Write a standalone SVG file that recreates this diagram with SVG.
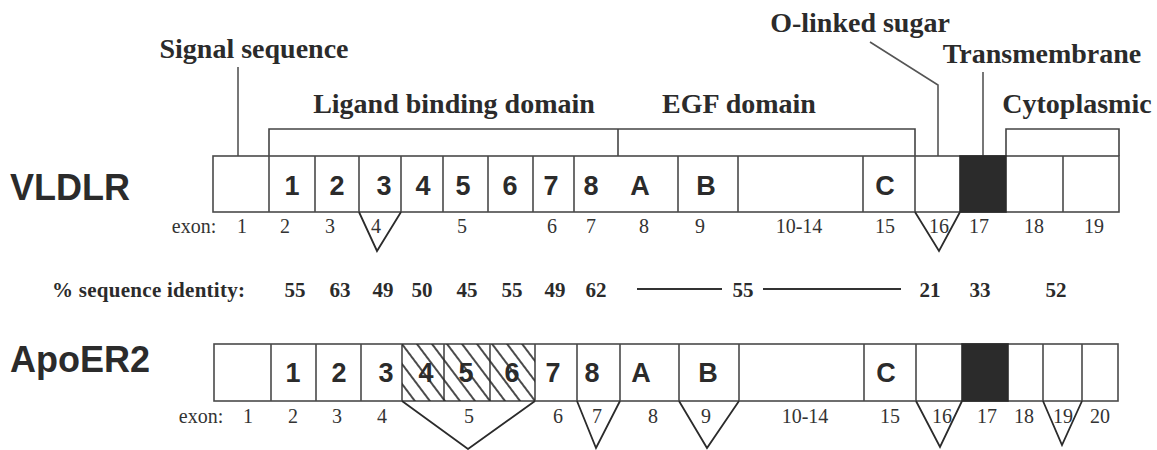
<svg xmlns="http://www.w3.org/2000/svg" width="1157" height="450" viewBox="0 0 1157 450">
  <style>
    .box { fill: #fff; stroke: #4a4a4a; stroke-width: 1.6; }
    .div { stroke: #4a4a4a; stroke-width: 1.6; fill: none; }
    .tm { fill: #2b2b2b; stroke: #2b2b2b; stroke-width: 1.6; }
    .tri { fill: none; stroke: #2b2b2b; stroke-width: 1.8; stroke-linejoin: miter; }
    .lead { fill: none; stroke: #555; stroke-width: 1.6; }
    .brk { fill: none; stroke: #444; stroke-width: 1.6; }
    .name { font-family: "Liberation Sans", Arial, sans-serif; font-weight: bold; font-size: 36px; fill: #2b2b2b; }
    .dom { font-family: "Liberation Sans", Arial, sans-serif; font-weight: bold; font-size: 27px; fill: #2b2b2b; text-anchor: middle; }
    .head { font-family: "Liberation Serif", "Times New Roman", serif; font-weight: bold; font-size: 28px; fill: #2b2b2b; text-anchor: middle; }
    .exon { font-family: "Liberation Serif", "Times New Roman", serif; font-size: 20px; fill: #333; text-anchor: middle; }
    .pct { font-family: "Liberation Serif", "Times New Roman", serif; font-weight: bold; font-size: 21px; fill: #2b2b2b; text-anchor: middle; }
    .pct-title { font-family: "Liberation Serif", "Times New Roman", serif; font-weight: bold; font-size: 21px; fill: #2b2b2b; text-anchor: start; }
  </style>
  <defs>
    <pattern id="hatch" patternUnits="userSpaceOnUse" width="12" height="12" patternTransform="rotate(-37)">
      <line x1="6" y1="-2" x2="6" y2="14" stroke="#2b2b2b" stroke-width="1.7"/>
    </pattern>
  </defs>

  <rect width="1157" height="450" fill="#fff"/>

  <!-- domain headings -->
  <g id="headings">
    <text class="head" x="254" y="58">Signal sequence</text>
    <text class="head" x="454" y="113">Ligand binding domain</text>
    <text class="head" x="739" y="113">EGF domain</text>
    <text class="head" x="860" y="32">O-linked sugar</text>
    <text class="head" x="1042" y="63">Transmembrane</text>
    <text class="head" x="1077" y="113">Cytoplasmic</text>
  </g>

  <!-- leader lines and domain brackets -->
  <g id="connectors">
    <line class="lead" x1="238" y1="67" x2="238" y2="156"/>
    <polyline class="lead" points="870,42 938,85 938,156"/>
    <line class="lead" x1="983" y1="72" x2="983" y2="156" stroke-width="2"/>
    <polyline class="brk" points="269,156 269,129 618,129"/>
    <line class="brk" x1="618" y1="129" x2="618" y2="212" stroke-width="3"/>
    <polyline class="brk" points="618,129 915,129 915,156"/>
    <polyline class="brk" points="1006,156 1006,129 1119,129 1119,156"/>
  </g>

  <!-- VLDLR exon map -->
  <g id="vldlr">
    <text class="name" x="10" y="200">VLDLR</text>
    <rect class="box" x="213" y="156" width="906" height="56"/>
    <rect class="tm" x="960" y="156" width="46" height="56"/>
    <path class="div" d="M269 156V212M315 156V212M359 156V212M401 156V212M443 156V212M488 156V212M533 156V212M574 156V212M678 156V212M738 156V212M863 156V212M915 156V212M1063 156V212"/>
    <g class="dom-labels">
      <text class="dom" x="292" y="195">1</text>
      <text class="dom" x="337" y="195">2</text>
      <text class="dom" x="384" y="195">3</text>
      <text class="dom" x="423" y="195">4</text>
      <text class="dom" x="463" y="195">5</text>
      <text class="dom" x="510" y="195">6</text>
      <text class="dom" x="551" y="195">7</text>
      <text class="dom" x="591" y="195">8</text>
      <text class="dom" x="640" y="195">A</text>
      <text class="dom" x="706" y="195">B</text>
      <text class="dom" x="885" y="195">C</text>
    </g>
    <polyline class="tri" points="359,212 377,251 401,212"/>
    <polyline class="tri" points="915,212 939,251 960,212"/>
    <g class="exon-labels">
      <text class="exon" x="194" y="233">exon:</text>
      <text class="exon" x="242" y="233">1</text>
      <text class="exon" x="285" y="233">2</text>
      <text class="exon" x="330" y="233">3</text>
      <text class="exon" x="376" y="233">4</text>
      <text class="exon" x="462" y="233">5</text>
      <text class="exon" x="552" y="233">6</text>
      <text class="exon" x="591" y="233">7</text>
      <text class="exon" x="644" y="233">8</text>
      <text class="exon" x="700" y="233">9</text>
      <text class="exon" x="799" y="233">10-14</text>
      <text class="exon" x="885" y="233">15</text>
      <text class="exon" x="939" y="233">16</text>
      <text class="exon" x="979" y="233">17</text>
      <text class="exon" x="1034" y="233">18</text>
      <text class="exon" x="1094" y="233">19</text>
    </g>
  </g>

  <!-- sequence identity between the two receptors -->
  <g id="identity">
    <text class="pct-title" x="52" y="297" textLength="193" lengthAdjust="spacing">% sequence identity:</text>
    <text class="pct" x="295" y="297">55</text>
    <text class="pct" x="340" y="297">63</text>
    <text class="pct" x="383" y="297">49</text>
    <text class="pct" x="422" y="297">50</text>
    <text class="pct" x="467" y="297">45</text>
    <text class="pct" x="512" y="297">55</text>
    <text class="pct" x="555" y="297">49</text>
    <text class="pct" x="596" y="297">62</text>
    <line x1="637" y1="289" x2="722" y2="289" stroke="#333" stroke-width="1.8"/>
    <text class="pct" x="743" y="297">55</text>
    <line x1="763" y1="289" x2="901" y2="289" stroke="#333" stroke-width="1.8"/>
    <text class="pct" x="930" y="297">21</text>
    <text class="pct" x="980" y="297">33</text>
    <text class="pct" x="1056" y="297">52</text>
  </g>

  <!-- ApoER2 exon map -->
  <g id="apoer2">
    <text class="name" x="10" y="372">ApoER2</text>
    <rect class="box" x="214" y="344" width="904" height="57"/>
    <rect class="tm" x="962" y="344" width="46" height="57"/>
    <path class="div" d="M271 344V401M316 344V401M361 344V401M402 344V401M444 344V401M490 344V401M535 344V401M577 344V401M620 344V401M679 344V401M739 344V401M864 344V401M916 344V401M1043 344V401M1082 344V401"/>
    <g class="dom-labels">
      <text class="dom" x="293" y="382">1</text>
      <text class="dom" x="339" y="382">2</text>
      <text class="dom" x="386" y="382">3</text>
      <text class="dom" x="426" y="382">4</text>
      <text class="dom" x="466" y="382">5</text>
      <text class="dom" x="512" y="382">6</text>
      <text class="dom" x="553" y="382">7</text>
      <text class="dom" x="592" y="382">8</text>
      <text class="dom" x="641" y="382">A</text>
      <text class="dom" x="708" y="382">B</text>
      <text class="dom" x="886" y="382">C</text>
    </g>
    <rect x="402" y="344" width="133" height="57" fill="url(#hatch)" stroke="none"/>
    <polyline class="tri" points="402,401 468,449 535,401"/>
    <polyline class="tri" points="577,401 596,448 620,401"/>
    <polyline class="tri" points="679,401 707,448 739,401"/>
    <polyline class="tri" points="916,401 940,447 962,401"/>
    <polyline class="tri" points="1043,401 1062,445 1082,401"/>
    <g class="exon-labels">
      <text class="exon" x="201" y="423">exon:</text>
      <text class="exon" x="248" y="423">1</text>
      <text class="exon" x="293" y="423">2</text>
      <text class="exon" x="337" y="423">3</text>
      <text class="exon" x="382" y="423">4</text>
      <text class="exon" x="469" y="423">5</text>
      <text class="exon" x="558" y="423">6</text>
      <text class="exon" x="597" y="423">7</text>
      <text class="exon" x="653" y="423">8</text>
      <text class="exon" x="706" y="423">9</text>
      <text class="exon" x="805" y="423">10-14</text>
      <text class="exon" x="890" y="423">15</text>
      <text class="exon" x="942" y="423">16</text>
      <text class="exon" x="987" y="423">17</text>
      <text class="exon" x="1024" y="423">18</text>
      <text class="exon" x="1063" y="423">19</text>
      <text class="exon" x="1100" y="423">20</text>
    </g>
  </g>
</svg>
